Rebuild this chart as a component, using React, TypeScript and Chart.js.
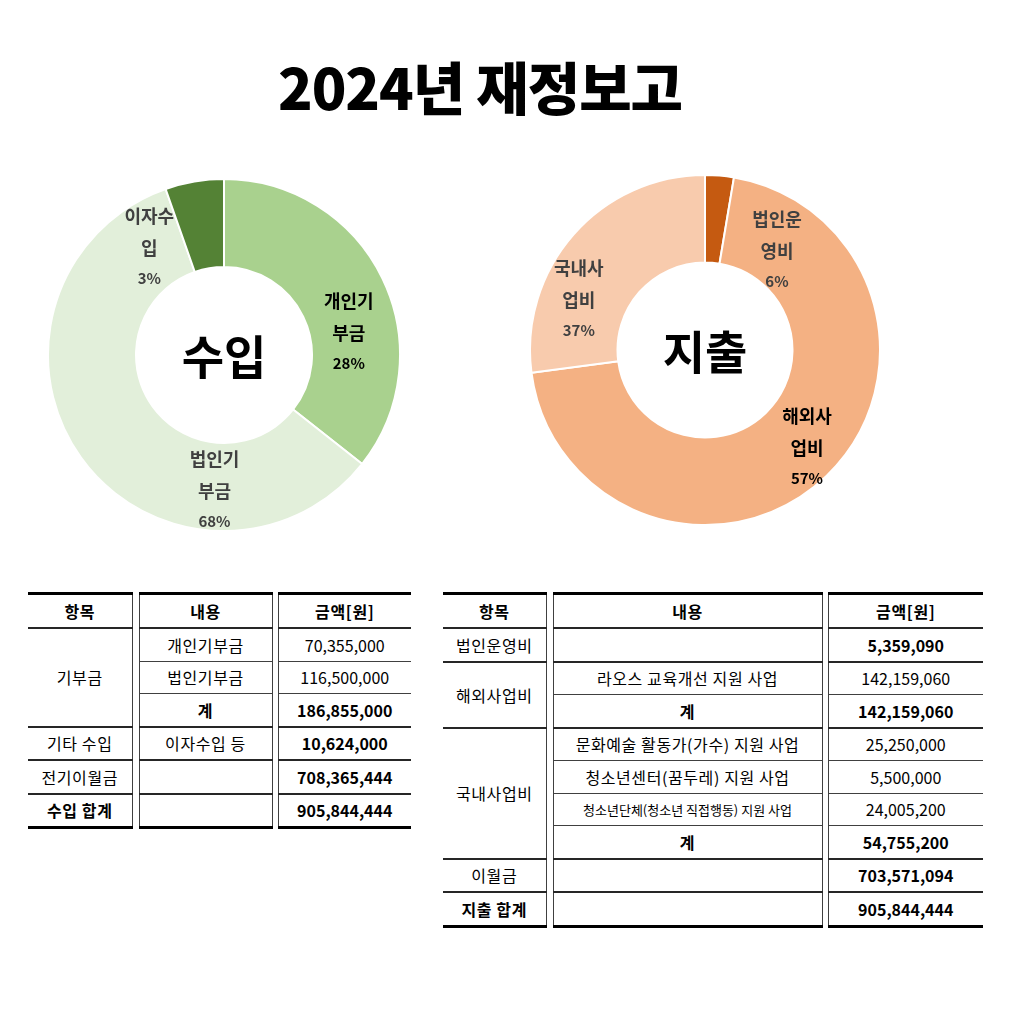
import React, { useEffect, useRef } from 'react';
import { Chart, registerables } from 'chart.js';

Chart.register(...registerables);

// ---------- data ----------
const incomeCategories = ['개인기부금', '법인기부금', '이자수입'];
const incomeValues = [70355000, 116500000, 10624000];
const incomePercentLabels = ['28%', '68%', '3%'];

const expenseCategories = ['법인운영비', '해외사업비', '국내사업비'];
const expenseValues = [5359090, 142159060, 54755200];
const expensePercentLabels = ['6%', '57%', '37%'];

const incomeCarryOver = 708365444;
const incomeTotal = 905844444;
const domesticItems = ['문화예술 활동가(가수) 지원 사업', '청소년센터(꿈두레) 지원 사업', '청소년단체(청소년 직접행동) 지원 사업'];
const domesticValues = [25250000, 5500000, 24005200];
const overseasItem = '라오스 교육개선 지원 사업';
const expenseCarryOver = 703571094;
const expenseTotal = 905844444;

// ---------- styles ----------
const incomeColors = ['#A9D18E', '#E2EFDA', '#548235'];
const expenseColors = ['#C55A11', '#F4B183', '#F8CBAD'];
const incomeLabelColors = ['#000000', '#404040', '#404040'];
const expenseLabelColors = ['#404040', '#000000', '#404040'];
const incomeLabelAngles = [80, 184, 325];
const incomeLabelRadii = [0.72, 0.775, 0.74];
const expenseLabelAngles = [36, 134, 291.5];
const expenseLabelRadii = [0.7, 0.81, 0.775];

const FONT = '"Noto Sans CJK KR", "Noto Sans", sans-serif';
const fmt = (v: number) => v.toLocaleString('en-US');

function makeLabelPlugin(cfg: { angles: number[]; radii: number[]; colors: string[]; pct: string[]; center: string }) {
  return {
    id: 'sliceLabels',
    afterDatasetsDraw(chart: any) {
      const meta = chart.getDatasetMeta(0);
      const first = meta.data[0] as any;
      if (!first) return;
      const cx = first.x;
      const cy = first.y;
      const R = first.outerRadius;
      const ctx = chart.ctx as CanvasRenderingContext2D;
      ctx.save();
      ctx.textAlign = 'center';
      ctx.textBaseline = 'middle';
      meta.data.forEach((_: any, i: number) => {
        const a = (cfg.angles[i] * Math.PI) / 180;
        const r = cfg.radii[i] * R;
        const x = cx + r * Math.sin(a);
        const y = cy - r * Math.cos(a);
        const name = String(chart.data.labels[i]);
        ctx.fillStyle = cfg.colors[i];
        ctx.font = `bold 18px ${FONT}`;
        ctx.fillText(name.slice(0, 3), x, y - 32);
        ctx.fillText(name.slice(3), x, y);
        ctx.font = `bold 15px ${FONT}`;
        ctx.fillText(cfg.pct[i], x, y + 30);
      });
      ctx.fillStyle = '#000';
      ctx.font = `bold 46px ${FONT}`;
      ctx.fillText(cfg.center, cx, cy + 2);
      ctx.restore();
    },
  };
}

function Doughnut(props: {
  labels: string[];
  values: number[];
  colors: string[];
  plugin: any;
  size: number;
  style: React.CSSProperties;
}) {
  const ref = useRef<HTMLCanvasElement>(null);
  useEffect(() => {
    if (!ref.current) return;
    const chart = new Chart(ref.current, {
      type: 'doughnut',
      data: {
        labels: props.labels,
        datasets: [
          {
            data: props.values,
            backgroundColor: props.colors,
            borderColor: '#ffffff',
            borderWidth: 2,
          },
        ],
      },
      options: {
        responsive: false,
        animation: false,
        cutout: '50%',
        layout: { padding: 0 },
        plugins: { legend: { display: false }, tooltip: { enabled: false } },
      },
      plugins: [props.plugin],
    });
    return () => chart.destroy();
  }, []);
  return <canvas ref={ref} width={props.size} height={props.size} style={{ position: 'absolute', ...props.style }} />;
}

const thin = '1px solid #404040';
const major = '2px solid #262626';
const thick = '3px solid #000';

type Cell = { text: string; bold?: boolean; small?: boolean; rowSpan?: number; bottom?: string };

function FinTable(props: { widths: number[]; header: string[]; rows: (Cell | null)[][]; style: React.CSSProperties }) {
  const { widths, header, rows } = props;
  const n = rows.length;
  const base: React.CSSProperties = {
    padding: 0,
    height: 31.5,
    textAlign: 'center',
    verticalAlign: 'middle',
    fontFamily: FONT,
    fontSize: 16,
    color: '#000',
    whiteSpace: 'nowrap',
    letterSpacing: 0.6,
  };
  const side = (c: number): React.CSSProperties =>
    c === 0 ? { borderRight: thin } : c === 1 ? { borderLeft: thin, borderRight: thin } : { borderLeft: thin };
  return (
    <table style={{ position: 'absolute', borderCollapse: 'collapse', tableLayout: 'fixed', ...props.style }}>
      <colgroup>
        {widths.map((w, i) => (
          <col key={i} style={{ width: w }} />
        ))}
      </colgroup>
      <tbody>
        <tr>
          {header.map((h, c) => (
            <React.Fragment key={c}>
              {c > 0 && <td style={{ ...base, border: 'none' }} />}
              <td style={{ ...base, ...side(c), fontWeight: 'bold', borderTop: thick, borderBottom: major, height: 32 }}>{h}</td>
            </React.Fragment>
          ))}
        </tr>
        {rows.map((row, r) => (
          <tr key={r}>
            {row.map((cell, c) => (
              <React.Fragment key={c}>
                {c > 0 && <td style={{ ...base, border: 'none' }} />}
                {cell && (
                  <td
                    rowSpan={cell.rowSpan || 1}
                    style={{
                      ...base,
                      ...side(c),
                      fontWeight: cell.bold ? 'bold' : 'normal',
                      fontSize: cell.small ? 13 : 16,
                      letterSpacing: cell.small || c === 2 ? 0 : 0.6,
                      borderBottom:
                        r + (cell.rowSpan || 1) - 1 === n - 1 ? thick : cell.bottom || thin,
                    }}
                  >
                    {cell.text}
                  </td>
                )}
              </React.Fragment>
            ))}
          </tr>
        ))}
      </tbody>
    </table>
  );
}

export default function App() {
  const incomeGift = incomeValues[0] + incomeValues[1];
  const domesticSum = domesticValues.reduce((a, b) => a + b, 0);
  const incomeRows: (Cell | null)[][] = [
    [{ text: '기부금', rowSpan: 3, bottom: major }, { text: incomeCategories[0] }, { text: fmt(incomeValues[0]) }],
    [null, { text: incomeCategories[1] }, { text: fmt(incomeValues[1]) }],
    [null, { text: '계', bold: true, bottom: major }, { text: fmt(incomeGift), bold: true, bottom: major }],
    [{ text: '기타 수입', bottom: major }, { text: '이자수입 등', bottom: major }, { text: fmt(incomeValues[2]), bold: true, bottom: major }],
    [{ text: '전기이월금', bottom: major }, { text: '', bottom: major }, { text: fmt(incomeCarryOver), bold: true, bottom: major }],
    [{ text: '수입 합계', bold: true }, { text: '' }, { text: fmt(incomeTotal), bold: true }],
  ];
  const expenseRows: (Cell | null)[][] = [
    [{ text: expenseCategories[0], bottom: major }, { text: '', bottom: major }, { text: fmt(expenseValues[0]), bold: true, bottom: major }],
    [{ text: expenseCategories[1], rowSpan: 2, bottom: major }, { text: overseasItem }, { text: fmt(expenseValues[1]) }],
    [null, { text: '계', bold: true, bottom: major }, { text: fmt(expenseValues[1]), bold: true, bottom: major }],
    [{ text: expenseCategories[2], rowSpan: 4, bottom: major }, { text: domesticItems[0] }, { text: fmt(domesticValues[0]) }],
    [null, { text: domesticItems[1] }, { text: fmt(domesticValues[1]) }],
    [null, { text: domesticItems[2], small: true }, { text: fmt(domesticValues[2]) }],
    [null, { text: '계', bold: true, bottom: major }, { text: fmt(domesticSum), bold: true, bottom: major }],
    [{ text: '이월금', bottom: major }, { text: '', bottom: major }, { text: fmt(expenseCarryOver), bold: true, bottom: major }],
    [{ text: '지출 합계', bold: true }, { text: '' }, { text: fmt(expenseTotal), bold: true }],
  ];

  const incomePlugin = makeLabelPlugin({
    angles: incomeLabelAngles,
    radii: incomeLabelRadii,
    colors: incomeLabelColors,
    pct: incomePercentLabels,
    center: '수입',
  });
  const expensePlugin = makeLabelPlugin({
    angles: expenseLabelAngles,
    radii: expenseLabelRadii,
    colors: expenseLabelColors,
    pct: expensePercentLabels,
    center: '지출',
  });

  return (
    <div style={{ position: 'absolute', left: 0, top: 0, width: 1024, height: 1015, background: '#fff', overflow: 'hidden' }}>
      <div
        style={{
          position: 'absolute',
          left: 0,
          top: 51,
          width: 960,
          textAlign: 'center',
          fontFamily: FONT,
          fontWeight: 900,
          fontSize: 57,
          lineHeight: '68px',
          letterSpacing: -1,
          color: '#000',
        }}
      >
        2024년 재정보고
      </div>
      <Doughnut labels={incomeCategories} values={incomeValues} colors={incomeColors} plugin={incomePlugin} size={354} style={{ left: 47, top: 178 }} />
      <Doughnut labels={expenseCategories} values={expenseValues} colors={expenseColors} plugin={expensePlugin} size={352} style={{ left: 529, top: 174 }} />
      <FinTable widths={[104, 7, 133, 6, 133]} header={['항목', '내용', '금액[원]']} rows={incomeRows} style={{ left: 28, top: 592 }} />
      <FinTable widths={[103, 7, 269, 6, 155]} header={['항목', '내용', '금액[원]']} rows={expenseRows} style={{ left: 443, top: 592 }} />
    </div>
  );
}
